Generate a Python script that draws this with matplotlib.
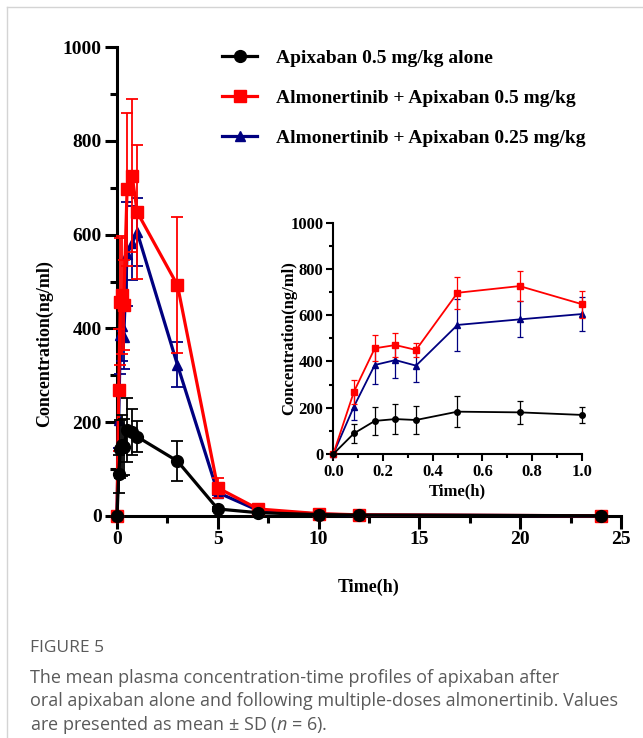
import matplotlib.pyplot as plt
from matplotlib.lines import Line2D
from matplotlib.ticker import MultipleLocator
import numpy as np

plt.rcParams['font.family'] = ['Liberation Serif', 'DejaVu Serif']
plt.rcParams['font.weight'] = 'bold'
plt.rcParams['mathtext.fontset'] = 'custom'
plt.rcParams['mathtext.it'] = 'Open Sans:style=italic:weight=400'
plt.rcParams['mathtext.rm'] = 'Open Sans:weight=400'

# sampling times (h)
time_h = [0, 0.083, 0.167, 0.25, 0.333, 0.5, 0.75, 1, 3, 5, 7, 10, 12, 24]

# mean concentrations (ng/ml)
apx_alone = [0, 89, 143, 151, 147, 183, 180, 169, 117, 15, 7, 3, 2, 0.5]
apx_alone_sd = [0, 40, 62, 65, 60, 68, 49, 33, 43, 4, 2, 1, 0.5, 0.2]

alm_apx_05 = [0, 269, 457, 471, 450, 697, 726, 648, 492, 60, 15, 5, 2.5, 0.5]
alm_apx_05_sd = [0, 130, 136, 125, 95, 163, 163, 143, 145, 22, 4, 2, 1, 0.2]
alm_apx_05_sd_inset = [0, 51, 57, 50, 31, 70, 66, 58]

alm_apx_025 = [0, 205, 385, 406, 382, 558, 582, 605, 322, 50, 12, 4, 2, 0.5]
alm_apx_025_sd = [0, 60, 82, 76, 69, 111, 78, 72, 48, 6, 3, 1, 0.5, 0.2]

labels = ['Apixaban 0.5 mg/kg alone',
          'Almonertinib + Apixaban 0.5 mg/kg',
          'Almonertinib + Apixaban 0.25 mg/kg']
colors = ['black', '#ff0000', '#000080']
markers = ['o', 's', '^']

W, H = 643, 738
fig = plt.figure(figsize=(W / 100, H / 100), dpi=100)

# page frame lines
fig.add_artist(Line2D([7 / W, 7 / W], [0, 1 - 7 / H], color='#d4d4d4', lw=1))
fig.add_artist(Line2D([7 / W, 1], [1 - 7 / H, 1 - 7 / H], color='#d4d4d4', lw=1))


def px_axes(x0, x1, y_top, y_bot):
    return [x0 / W, 1 - y_bot / H, (x1 - x0) / W, (y_bot - y_top) / H]


def style_axes(ax, spine_w, major_len, minor_len, fs):
    for s in ['top', 'right']:
        ax.spines[s].set_visible(False)
    for s in ['left', 'bottom']:
        ax.spines[s].set_linewidth(spine_w)
    ax.tick_params(which='major', direction='out', length=major_len, width=spine_w,
                   labelsize=fs, pad=2)
    ax.tick_params(which='minor', direction='out', length=minor_len, width=spine_w)
    for lab in ax.get_xticklabels() + ax.get_yticklabels():
        lab.set_fontweight('bold')


# ---- main plot ----
ax = fig.add_axes(px_axes(117, 621, 47, 516))
series = [(apx_alone, apx_alone_sd), (alm_apx_05, alm_apx_05_sd), (alm_apx_025, alm_apx_025_sd)]
z = [6, 5, 4]
msz = [8.5, 8, 6.5]
for (y, sd), c, m, zz, ms in zip(series, colors, markers, z, msz):
    ax.errorbar(time_h, y, yerr=sd, color=c, marker=m, ms=ms, lw=2.3, elinewidth=1.3,
                capsize=4.5, capthick=1.3, zorder=zz, clip_on=False)

ax.set_xlim(0, 25)
ax.set_ylim(0, 1000)
ax.xaxis.set_major_locator(MultipleLocator(5))
ax.xaxis.set_minor_locator(MultipleLocator(2.5))
ax.yaxis.set_major_locator(MultipleLocator(200))
ax.yaxis.set_minor_locator(MultipleLocator(100))
style_axes(ax, 2.2, 9, 5, 14)
ax.set_xlabel('Time(h)', fontsize=13, fontweight='bold', labelpad=22)
ax.set_ylabel('Concentration(ng/ml)', fontsize=13, fontweight='bold')
ax.yaxis.set_label_coords(-0.127, 0.367)

handles = [Line2D([], [], color=c, marker=m, ms=ms, lw=2.3)
           for c, m, ms in zip(colors, markers, msz)]
ax.legend(handles, labels, loc='upper left', bbox_to_anchor=(0.193, 1.012), frameon=False,
          prop={'size': 14, 'weight': 'bold'}, handlelength=1.8, handletextpad=1.0,
          labelspacing=1.15, borderaxespad=0)

# ---- inset ----
ins = fig.add_axes(px_axes(333.3, 581.7, 222.7, 454))
n = 8
inset_series = [(apx_alone[:n], apx_alone_sd[:n]),
                (alm_apx_05[:n], alm_apx_05_sd_inset),
                (alm_apx_025[:n], alm_apx_025_sd[:n])]
for (y, sd), c, m, zz in zip(inset_series, colors, markers, z):
    ins.errorbar(time_h[:n], y, yerr=sd, color=c, marker=m, ms=4, lw=1.3, elinewidth=0.9,
                 capsize=2.5, capthick=0.9, zorder=zz, clip_on=False)
ins.set_xlim(0, 1.0)
ins.set_ylim(0, 1000)
ins.xaxis.set_major_locator(MultipleLocator(0.2))
ins.xaxis.set_minor_locator(MultipleLocator(0.1))
ins.yaxis.set_major_locator(MultipleLocator(200))
ins.yaxis.set_minor_locator(MultipleLocator(100))
ins.xaxis.set_major_formatter(lambda v, p: f'{v:.1f}')
style_axes(ins, 1.5, 5, 3, 12)
ins.set_xlabel('Time(h)', fontsize=12, fontweight='bold', labelpad=3)
ins.set_ylabel('Concentration(ng/ml)', fontsize=12, fontweight='bold')
ins.yaxis.set_label_coords(-0.145, 0.5)

# ---- caption ----
cap_font = ['Open Sans', 'DejaVu Sans']
fig.text(30 / W, 1 - 648 / H, 'FIGURE 5', family=cap_font, fontsize=12.5, color='#5a5a5a',
         fontweight='normal', va='center')
caption = ['The mean plasma concentration-time profiles of apixaban after',
           'oral apixaban alone and following multiple-doses almonertinib. Values',
           'are presented as mean ± SD ($\\it{n}$ = 6).']
for i, line in enumerate(caption):
    fig.text(30 / W, 1 - (678 + 23.5 * i) / H, line, family=cap_font, fontsize=13,
             color='#5a5a5a', fontweight='normal', va='center')

fig.savefig('out.png', dpi=100)
